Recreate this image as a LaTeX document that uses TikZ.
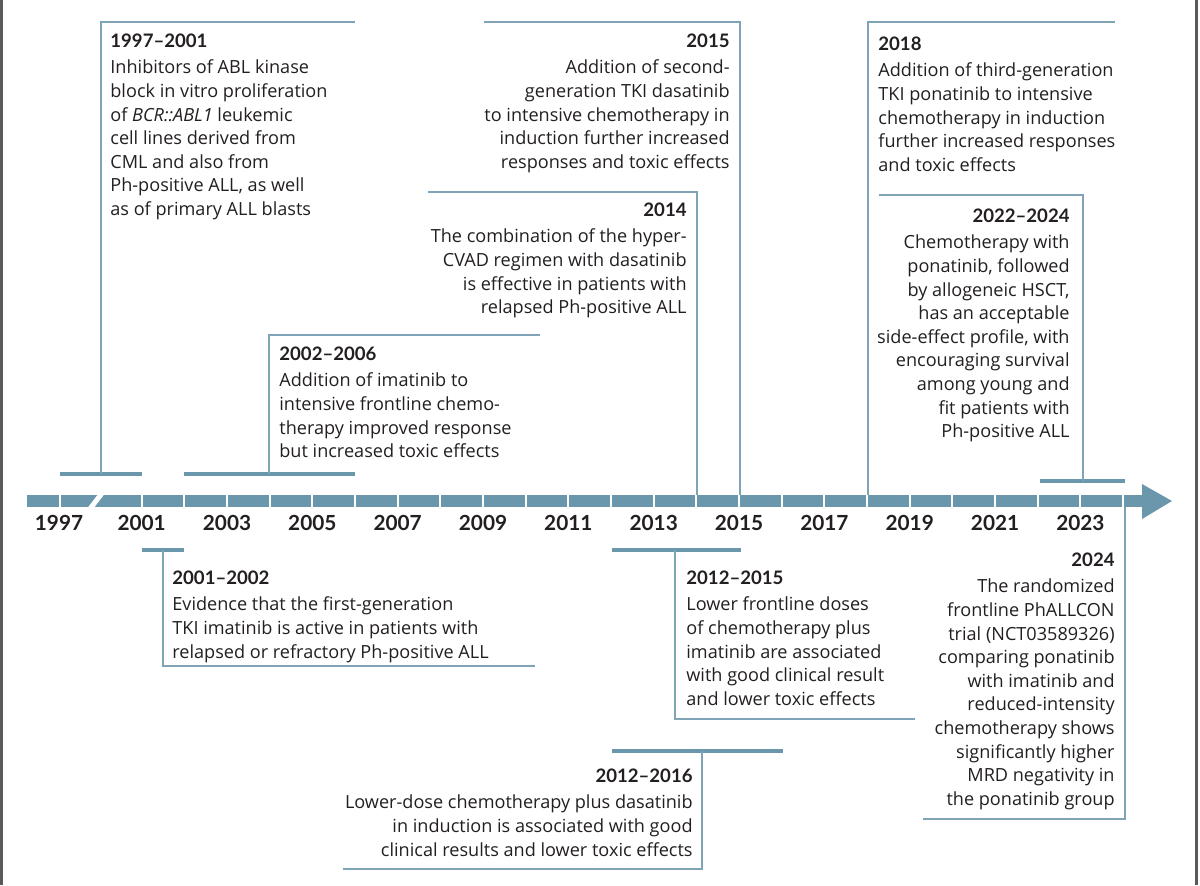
\documentclass[tikz,border=0pt]{standalone}
\usepackage{fontspec}
\setmainfont{Lato}
\newfontfamily\bodyfont{Open Sans}
\definecolor{barc}{HTML}{6B97AD}
\definecolor{linec}{HTML}{7FA4B8}
\definecolor{txt}{HTML}{231F20}
\definecolor{edgec}{HTML}{5A5A5A}
\newcommand\evhead[1]{{\fontsize{9.3}{11}\selectfont\rmfamily\bfseries #1}}
\begin{document}
\begin{tikzpicture}[x=0.5pt,y=-0.5pt,
  frame/.style={draw=linec, line width=0.8pt},
  span/.style={draw=barc, line width=1.6pt},
  txtL/.style={align=left, inner sep=0pt, anchor=north west, text=txt, font=\bodyfont\fontsize{9.05}{11.8}\selectfont},
  txtR/.style={align=right, inner sep=0pt, anchor=north east, text=txt, font=\bodyfont\fontsize{9.05}{11.8}\selectfont},
  yr/.style={font=\fontsize{10.4}{12}\selectfont\bfseries, text=txt, inner sep=0pt},
]
\fill[white] (0,0) rectangle (1200,885);
\useasboundingbox (0,0) rectangle (1200,885);
% side rules
\fill[edgec] (0,0) rectangle (3,885);
\fill[edgec] (1195,0) rectangle (1198,885);

% timeline bar
\fill[barc] (27,495) rectangle (1143,507);
\fill[barc] (1142,484) -- (1172,501) -- (1142,519) -- cycle;
\foreach \yy in {2001,...,2024}
  \draw[white, line width=1pt] ({227+(\yy-2003)*42.67},493) -- ++(0,16);
\draw[white, line width=1pt] (59.5,493) -- (59.5,509);
\draw[white, line width=2.5pt] (89.5,509.5) -- (102.5,492.5);

% year labels
\node[yr] (y1997) at (59,523) {1997};
\foreach \yy in {2001,2003,...,2023}
  \node[yr] (y\yy) at ({227+(\yy-2003)*42.67},523) {\yy};

% ---- above the bar ----
% 1997-2001
\draw[span] (60,474) -- (142,474);
\draw[frame] (101,474) -- (101,22) -- (355,22);
\node[txtL] (tA) at (110,33) {\evhead{1997–2001}\\[1.6pt]
Inhibitors of ABL kinase\\
block in vitro proliferation\\
of \textit{BCR::ABL1} leukemic\\
cell lines derived from\\
CML and also from\\
Ph-positive ALL, as well\\
as of primary ALL blasts};

% 2002-2006
\draw[span] (184,474) -- (355,474);
\draw[frame] (269,474) -- (269,335) -- (540,335);
\node[txtL] (tB) at (279,346) {\evhead{2002–2006}\\[1.6pt]
Addition of imatinib to\\
intensive frontline chemo-\\
therapy improved response\\
but increased toxic effects};

% 2014
\draw[frame] (697,495) -- (697,192) -- (428,192);
\node[txtR] (tC) at (687,202) {\evhead{2014}\\[1.6pt]
The combination of the hyper-\\
CVAD regimen with dasatinib\\
is effective in patients with\\
relapsed Ph-positive ALL};

% 2015
\draw[frame] (740,495) -- (740,22) -- (484,22);
\node[txtR] (tD) at (730,33) {\evhead{2015}\\[1.6pt]
Addition of second-\\
generation TKI dasatinib\\
to intensive chemotherapy in\\
induction further increased\\
responses and toxic effects};

% 2018
\draw[frame] (868,495) -- (868,22) -- (1115,22);
\node[txtL] (tE) at (878,36) {\evhead{2018}\\[1.6pt]
Addition of third-generation\\
TKI ponatinib to intensive\\
chemotherapy in induction\\
further increased responses\\
and toxic effects};

% 2022-2024
\draw[span] (1040,481) -- (1125,481);
\draw[frame] (1083,481) -- (1083,195) -- (879,195);
\node[txtR] (tF) at (1070,208) {\evhead{2022–2024}\\[1.6pt]
Chemotherapy with\\
ponatinib, followed\\
by allogeneic HSCT,\\
has an acceptable\\
side-effect profile, with\\
encouraging survival\\
among young and\\
fit patients with\\
Ph-positive ALL};

% ---- below the bar ----
% 2001-2002
\draw[span] (142,550) -- (184,550);
\draw[frame] (163,550) -- (163,666) -- (535,666);
\node[txtL] (tG) at (172,570) {\evhead{2001–2002}\\[1.6pt]
Evidence that the first-generation\\
TKI imatinib is active in patients with\\
relapsed or refractory Ph-positive ALL};

% 2012-2015
\draw[span] (612,550) -- (741,550);
\draw[frame] (675,550) -- (675,719) -- (915,719);
\node[txtL] (tH) at (686,570) {\evhead{2012–2015}\\[1.6pt]
Lower frontline doses\\
of chemotherapy plus\\
imatinib are associated\\
with good clinical result\\
and lower toxic effects};

% 2012-2016
\draw[span] (612,751) -- (783,751);
\draw[frame] (702,751) -- (702,869) -- (343,869);
\node[txtR] (tI) at (693,768) {\evhead{2012–2016}\\[1.6pt]
Lower-dose chemotherapy plus dasatinib\\
in induction is associated with good\\
clinical results and lower toxic effects};

% 2024
\draw[frame] (1125,507) -- (1125,819) -- (923,819);
\node[txtR] (tJ) at (1115,552) {\evhead{2024}\\[1.6pt]
The randomized\\
frontline PhALLCON\\
trial (NCT03589326)\\
comparing ponatinib\\
with imatinib and\\
reduced-intensity\\
chemotherapy shows\\
significantly higher\\
MRD negativity in\\
the ponatinib group};
\end{tikzpicture}
\end{document}
